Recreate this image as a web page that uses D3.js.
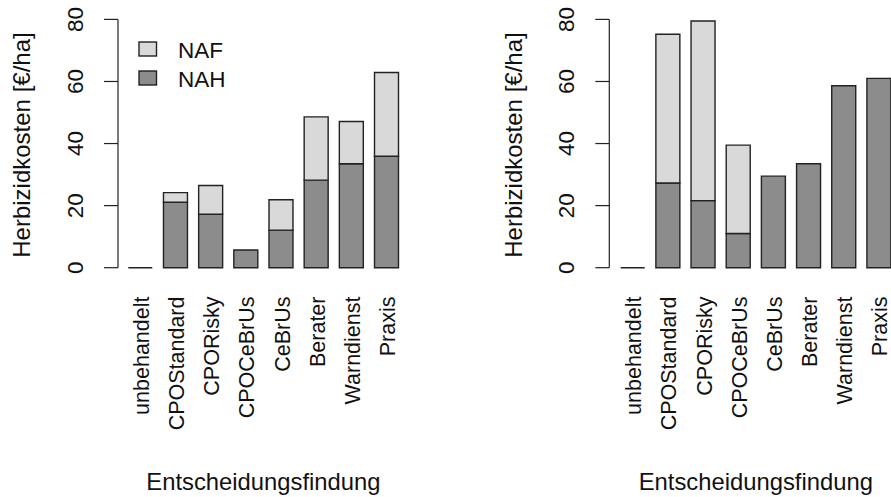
<!DOCTYPE html>
<html>
<head>
<meta charset="utf-8">
<script src="https://cdn.jsdelivr.net/npm/d3@7"></script>
<style>
  html, body { margin: 0; padding: 0; background: #fff; }
  svg { display: block; font-family: "Liberation Sans", Arial, sans-serif; }
</style>
</head>
<body>
<svg id="chart" width="891" height="497"></svg>
<script>
// ---- data ----
const categories = ["unbehandelt", "CPOStandard", "CPORisky", "CPOCeBrUs", "CeBrUs", "Berater", "Warndienst", "Praxis"];
const seriesNames = ["NAF", "NAH"];
const leftNAH  = [0, 21.1, 17.2, 5.7, 12.1, 28.2, 33.5, 35.9];
const leftNAF  = [0, 3.1, 9.3, 0, 9.8, 20.4, 13.6, 27.0];
const rightNAH = [0, 27.3, 21.6, 11.0, 29.5, 33.5, 58.6, 61.0];
const rightNAF = [0, 47.9, 57.9, 28.5, 0, 0, 0, 0];
const yTicks = [0, 20, 40, 60, 80];
const yLabel = "Herbizidkosten [€/ha]";
const xLabel = "Entscheidungsfindung";

// ---- styles ----
const colNAF = "#d9d9d9";
const colNAH = "#8c8c8c";
const strokeCol = "#222";
const textCol = "#111";

const svg = d3.select("#chart");

const y = d3.scaleLinear().domain([0, 80]).range([267.7, 19.4]);

function panel(opts) {
  const g = svg.append("g");
  const x = d3.scaleBand()
    .domain(categories)
    .range([opts.barStart, opts.barEnd])
    .paddingInner(0.318)
    .paddingOuter(0);

  const rows = categories.map((c, i) => ({ cat: c, NAH: opts.nah[i], NAF: opts.naf[i] }));
  const stack = d3.stack().keys(["NAH", "NAF"])(rows);

  // bars
  stack.forEach(layer => {
    const fill = layer.key === "NAH" ? colNAH : colNAF;
    layer.forEach((d, i) => {
      if (layer.key === "NAF" && d[1] - d[0] <= 0) return;
      const x0 = x(categories[i]), x1 = x0 + x.bandwidth();
      const p = d3.path();
      p.moveTo(x0, y(d[0]));
      p.lineTo(x1, y(d[0]));
      p.lineTo(x1, y(d[1]));
      p.lineTo(x0, y(d[1]));
      p.closePath();
      g.append("path")
        .attr("d", p.toString())
        .attr("fill", fill)
        .attr("stroke", strokeCol)
        .attr("stroke-width", 1.4);
    });
  });

  // y axis
  const ax = g.append("g").attr("transform", `translate(${opts.axisX},0)`);
  ax.append("line")
    .attr("x1", 0).attr("x2", 0)
    .attr("y1", y(0)).attr("y2", y(80))
    .attr("stroke", strokeCol).attr("stroke-width", 1.2);
  yTicks.forEach(t => {
    ax.append("line")
      .attr("x1", -14).attr("x2", 0)
      .attr("y1", y(t)).attr("y2", y(t))
      .attr("stroke", strokeCol).attr("stroke-width", 1.2);
    ax.append("text")
      .attr("transform", `translate(-43,${y(t)}) rotate(-90)`)
      .attr("text-anchor", "middle")
      .attr("dy", "0.35em")
      .attr("font-size", 22.5)
      .attr("fill", textCol)
      .text(t);
  });

  // y label
  g.append("text")
    .attr("transform", `translate(${opts.axisX - 96},${(y(0) + y(80)) / 2 + 1.5}) rotate(-90)`)
    .attr("text-anchor", "middle")
    .attr("dy", "0.35em")
    .attr("font-size", 24)
    .attr("fill", textCol)
    .text(yLabel);

  // category labels
  categories.forEach(c => {
    g.append("text")
      .attr("transform", `translate(${x(c) + x.bandwidth() / 2 + 1},296.5) rotate(-90)`)
      .attr("text-anchor", "end")
      .attr("dy", "0.35em")
      .attr("font-size", 21.5)
      .attr("fill", textCol)
      .text(c);
  });

  // x label
  g.append("text")
    .attr("x", (opts.barStart + opts.barEnd) / 2)
    .attr("y", 490)
    .attr("text-anchor", "middle")
    .attr("font-size", 23.8)
    .attr("fill", textCol)
    .text(xLabel);

  if (opts.legend) {
    const lg = g.append("g");
    seriesNames.forEach((s, i) => {
      lg.append("rect")
        .attr("x", 139).attr("y", 42 + i * 29)
        .attr("width", 17.5).attr("height", 14)
        .attr("fill", s === "NAF" ? colNAF : colNAH)
        .attr("stroke", strokeCol).attr("stroke-width", 1.4);
      lg.append("text")
        .attr("x", 178).attr("y", 57.5 + i * 29)
        .attr("font-size", 22.5)
        .attr("fill", textCol)
        .text(s);
    });
  }
}

panel({ axisX: 118, barStart: 128.3, barEnd: 398.5, nah: leftNAH, naf: leftNAF, legend: true });
panel({ axisX: 609.3, barStart: 620.7, barEnd: 890.9, nah: rightNAH, naf: rightNAF, legend: false });
</script>
</body>
</html>
